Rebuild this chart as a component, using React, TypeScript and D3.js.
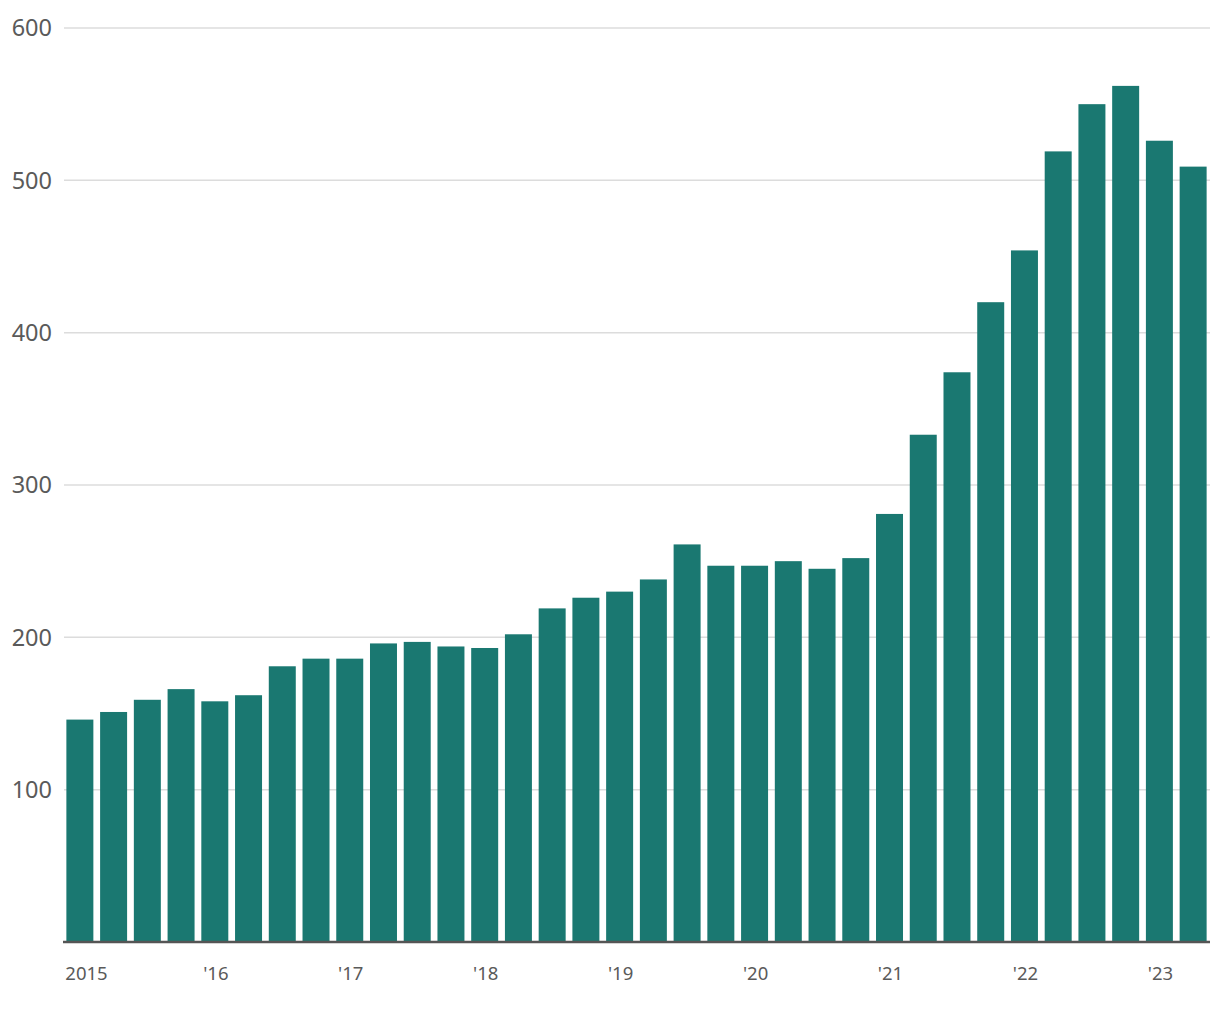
import React from "react";
import * as d3 from "d3";

const quarters = [
  "2015Q1","2015Q2","2015Q3","2015Q4",
  "2016Q1","2016Q2","2016Q3","2016Q4",
  "2017Q1","2017Q2","2017Q3","2017Q4",
  "2018Q1","2018Q2","2018Q3","2018Q4",
  "2019Q1","2019Q2","2019Q3","2019Q4",
  "2020Q1","2020Q2","2020Q3","2020Q4",
  "2021Q1","2021Q2","2021Q3","2021Q4",
  "2022Q1","2022Q2","2022Q3","2022Q4",
  "2023Q1","2023Q2",
];
const values = [
  146, 151, 159, 166, 158, 162, 181, 186,
  186, 196, 197, 194, 193, 202, 219, 226,
  230, 238, 261, 247, 247, 250, 245, 252,
  281, 333, 374, 420, 454, 519, 550, 562,
  526, 509,
];
const yTicks = [100, 200, 300, 400, 500, 600];
const xLabels: { q: string; label: string }[] = [
  { q: "2015Q1", label: "2015" },
  { q: "2016Q1", label: "'16" },
  { q: "2017Q1", label: "'17" },
  { q: "2018Q1", label: "'18" },
  { q: "2019Q1", label: "'19" },
  { q: "2020Q1", label: "'20" },
  { q: "2021Q1", label: "'21" },
  { q: "2022Q1", label: "'22" },
  { q: "2023Q1", label: "'23" },
];

const W = 1220;
const H = 1020;
const left = 55;
const right = 1202;
const top = 20;
const bottom = 934;
const font = "'Noto Sans', sans-serif";

export default function App() {
  const x = d3
    .scaleBand<string>()
    .domain(quarters)
    .range([left, right])
    .paddingInner(0.2)
    .paddingOuter(0.1);
  const y = d3.scaleLinear().domain([0, 600]).range([bottom, top]);

  return (
    <svg width={W} height={H} style={{ display: "block", position: "absolute", left: 8, top: 8 }}>
      {yTicks.map((t) => (
        <g key={t}>
          <line x1={left + 1} x2={right} y1={y(t)} y2={y(t)} stroke="#dcdcdc" strokeWidth={1.5} />
          <text
            x={44}
            y={y(t)}
            dy="0.36em"
            textAnchor="end"
            fontFamily={font}
            fontSize={23.5}
            fill="#5a5a5a"
          >
            {t}
          </text>
        </g>
      ))}
      {quarters.map((q, i) => (
        <rect
          key={q}
          x={x(q)}
          y={y(values[i])}
          width={x.bandwidth()}
          height={y(0) - y(values[i])}
          fill="#1a7871"
        />
      ))}
      <line x1={left} x2={right} y1={y(0)} y2={y(0)} stroke="#555" strokeWidth={2.5} />
      {xLabels.map((d, i) => (
        <text
          key={d.q}
          x={i === 0 ? (x(d.q) as number) - 1 : (x(d.q) as number) + x.bandwidth() / 2 + 1}
          y={972}
          textAnchor={i === 0 ? "start" : "middle"}
          fontFamily={font}
          fontSize={18.5}
          fill="#5a5a5a"
        >
          {d.label}
        </text>
      ))}
    </svg>
  );
}
